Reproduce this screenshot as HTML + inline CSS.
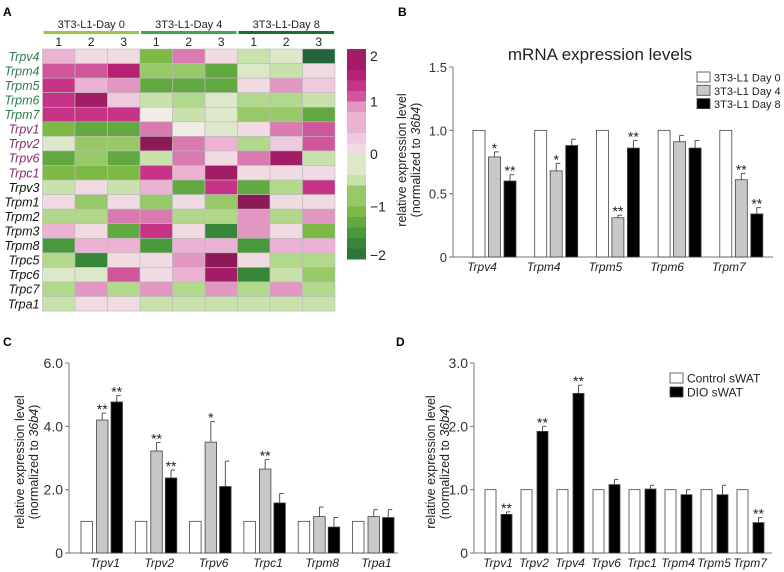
<!DOCTYPE html>
<html><head><meta charset="utf-8"><style>
html,body{margin:0;padding:0;background:#fff;}
svg{display:block;font-family:"Liberation Sans",Arial,sans-serif;}
</style></head><body>
<svg id="fig" width="784" height="572" viewBox="0 0 784 572" xmlns="http://www.w3.org/2000/svg">
<text x="3" y="16" font-size="12" font-weight="bold">A</text>
<text x="398" y="16" font-size="12" font-weight="bold">B</text>
<text x="3" y="346" font-size="12" font-weight="bold">C</text>
<text x="396" y="346" font-size="12" font-weight="bold">D</text>
<g id="heat"></g>
<g id="pb"></g>
<g id="pc"></g>
<g id="pd"></g>
</svg>
<script>
// ---- Heatmap data ----
const hmGenes = ["Trpv4","Trpm4","Trpm5","Trpm6","Trpm7","Trpv1","Trpv2","Trpv6","Trpc1","Trpv3","Trpm1","Trpm2","Trpm3","Trpm8","Trpc5","Trpc6","Trpc7","Trpa1"];
const hmGroups = ["3T3-L1-Day 0","3T3-L1-Day 4","3T3-L1-Day 8"];
const hmReps = ["1","2","3"];
const hmValues = [
[0.6,0.1,0.1,-1.0,0.9,0.1,-0.4,-0.2,-2.0],
[1.2,1.2,1.5,-0.8,-0.9,-1.2,-0.3,-0.4,0.2],
[1.4,0.5,0.8,-1.2,-1.2,-1.2,0.2,0.8,0.4],
[1.4,1.9,0.4,-0.5,-0.6,-0.3,-0.7,-0.7,-0.5],
[1.4,1.4,1.4,-0.1,-0.5,-0.3,-0.9,-0.8,-1.2],
[-1.0,-1.3,-1.3,1.0,-0.1,-0.3,0.2,1.0,1.1],
[-0.3,-0.8,-0.8,2.2,0.9,0.6,-0.6,0.4,1.1],
[-1.2,-0.8,-1.2,-0.5,0.9,0.1,1.0,1.7,-0.5],
[-1.0,-1.0,-1.0,1.4,0.6,1.7,0.2,0.2,0.2],
[-0.5,0.1,-0.5,0.6,-1.2,1.3,-1.2,-0.6,1.3],
[0.1,-0.9,0.1,-0.9,0.1,-0.9,2.2,0.1,0.1],
[-0.7,-0.7,0.9,0.9,-0.7,-0.7,0.8,-0.7,0.8],
[0.6,0.2,-1.3,1.4,0.1,-1.7,0.8,0.1,-1.0],
[-1.5,0.6,0.6,-1.5,0.6,0.6,-1.5,0.6,0.6],
[-0.7,-1.7,0.1,0.1,0.8,2.1,0.1,-0.7,-0.7],
[-0.3,-0.3,1.1,0.1,0.6,1.8,-1.6,-0.5,-0.9],
[-0.7,0.8,-0.7,0.8,-0.7,0.8,-0.7,0.8,-0.7],
[-0.5,0.1,0.1,-0.5,-0.5,-0.5,-0.5,-0.5,-0.5]
];
const cbTicks = [2,1,0,-1,-2];

// ---- Panel B data ----
const bCats = ["Trpv4","Trpm4","Trpm5","Trpm6","Trpm7"];
const bDay0 = [1,1,1,1,1];
const bDay4 = [0.79,0.68,0.31,0.91,0.61];
const bDay8 = [0.60,0.88,0.86,0.86,0.34];
const bErr4 = [0.04,0.06,0.02,0.05,0.05];
const bErr8 = [0.05,0.05,0.06,0.06,0.05];
const bSig4 = ["*","*","**","","**"];
const bSig8 = ["**","","**","","**"];
const bTicks = [0,0.5,1.0,1.5];
const bTickLabels = ["0","0.5","1.0","1.5"];

// ---- Panel C data ----
const cCats = ["Trpv1","Trpv2","Trpv6","Trpc1","Trpm8","Trpa1"];
const cDay0 = [1,1,1,1,1,1];
const cDay4 = [4.2,3.22,3.5,2.65,1.15,1.15];
const cDay8 = [4.77,2.37,2.1,1.58,0.82,1.12];
const cErr4 = [0.22,0.27,0.65,0.3,0.3,0.22];
const cErr8 = [0.2,0.25,0.8,0.3,0.3,0.25];
const cSig4 = ["**","**","*","**","",""];
const cSig8 = ["**","**","","","",""];
const cTicks = [0,2,4,6];
const cTickLabels = ["0","2.0","4.0","6.0"];

// ---- Panel D data ----
const dCats = ["Trpv1","Trpv2","Trpv4","Trpv6","Trpc1","Trpm4","Trpm5","Trpm7"];
const dCtrl = [1,1,1,1,1,1,1,1];
const dDio = [0.61,1.92,2.52,1.08,1.01,0.92,0.92,0.48];
const dErr = [0.04,0.08,0.13,0.08,0.06,0.08,0.15,0.08];
const dSig = ["**","**","**","","","","","**"];
const dTicks = [0,1,2,3];
const dTickLabels = ["0","1.0","2.0","3.0"];

const NS="http://www.w3.org/2000/svg";
function mk(parent,tag,attrs,text){const e=document.createElementNS(NS,tag);for(const k in attrs)e.setAttribute(k,attrs[k]);if(text!==undefined)e.textContent=text;parent.appendChild(e);return e;}

// colour scale
const stops=[[-2,[35,100,58]],[-1.5,[61,143,58]],[-1,[124,186,69]],[-0.5,[191,223,158]],[0,[241,237,230]],[0.5,[239,192,220]],[1,[217,122,176]],[1.5,[194,33,124]],[2,[140,26,87]]];
function color(v){v=Math.max(-2,Math.min(2,Math.round(v/0.2)*0.2));for(let i=0;i<stops.length-1;i++){const a=stops[i],b=stops[i+1];if(v<=b[0]+1e-9){const t=(v-a[0])/(b[0]-a[0]);const c=a[1].map((x,j)=>Math.round(x+(b[1][j]-x)*t));return `rgb(${c.join(',')})`;}}return 'rgb(140,26,87)';}

// ---- Heatmap ----
(function(){
const g=document.getElementById('heat');
const x0=42.5,y0=49,cw=32.5,rh=14.56;
const gcols=["#9dc54a","#3ea84f","#1e6b3a"];
hmGroups.forEach((name,i)=>{
  const t=mk(g,'text',{x:x0+cw*(i*3+1.5),y:28,'font-size':11,'text-anchor':'middle',fill:'#222'},name);
  
  
  const r=mk(g,'rect',{x:x0+cw*i*3+1,y:31,width:cw*3-2,height:3,fill:gcols[i]});
  
  
  hmReps.forEach((rep,j)=>{
    const tt=mk(g,'text',{x:x0+cw*(i*3+j+0.5),y:46,'font-size':12,'text-anchor':'middle',fill:'#222'},rep);
    
    
  });
});
hmGenes.forEach((gene,r)=>{
  const col=r<5?'#2e7d4f':(r<9?'#8b2a6a':'#111');
  const t=mk(g,'text',{x:x0-3,y:y0+rh*r+rh/2+4.5,'font-size':12.5,'font-style':'italic','text-anchor':'end',fill:col},gene);
  
  
  hmValues[r].forEach((v,c)=>{
    const cell=mk(g,'rect',{x:x0+cw*c,y:y0+rh*r,width:cw,height:rh,fill:color(v),stroke:'#bbb','stroke-width':0.6});
    
    
  });
});
// colorbar
const cbx=347,cby=49,cbh=210,n=20;
for(let i=0;i<n;i++){
  const v=2-(i+0.5)*4/n;
  const s=mk(g,'rect',{x:cbx,y:cby+i*cbh/n,width:19,height:cbh/n+0.5,fill:color(v)});
  
  
}
cbTicks.forEach(v=>{
  const y=cby+(2-v)/4*cbh;
  const yy=Math.min(Math.max(y,cby+7),cby+cbh-4);
  const t=mk(g,'text',{x:370,y:yy+5,'font-size':14,fill:'#222'},v<0?'\u2212'+Math.abs(v):String(v));
  
  
});
})();

// ---- generic bar chart ----
function barChart(g,o){
  const ys=v=>o.y0-(v/o.max)*(o.y0-o.ytop);
  mk(g,'line',{x1:o.ax,y1:o.ytop,x2:o.ax,y2:o.y0,stroke:'#777','stroke-width':1});
  mk(g,'line',{x1:o.ax,y1:o.y0,x2:o.axEnd,y2:o.y0,stroke:'#777','stroke-width':1});
  o.ticks.forEach((v,i)=>{
    const y=ys(v);
    mk(g,'line',{x1:o.ax-4,y1:y,x2:o.ax,y2:y,stroke:'#777'});
    const t=mk(g,'text',{x:o.ax-6,y:y+5,'font-size':o.tfs,'text-anchor':'end',fill:'#333'},o.tickLabels[i]);
    
    
  });
  const yt=mk(g,'text',{transform:`translate(${o.ylx},${o.ylc}) rotate(-90)`,'font-size':12.5,'text-anchor':'middle',fill:'#222'});
  
  
  mk(yt,'tspan',{x:0,y:0},'relative expression level');
  const t2=mk(yt,'tspan',{x:0,dy:14},'(normalized to ');
  mk(yt,'tspan',{'font-style':'italic'},'36b4');
  mk(yt,'tspan',{},')');
  o.cats.forEach((cat,i)=>{
    const gx=o.g0+i*o.gs;
    o.series.forEach((s,k)=>{
      const x=gx+o.offs[k];
      const v=s.vals[i];
      const y=ys(v);
      if(s.err){
        const ey=ys(v+s.err[i]);
        mk(g,'line',{x1:x+o.bw/2,y1:y,x2:x+o.bw/2,y2:ey,stroke:'#555','stroke-width':1});
        mk(g,'line',{x1:x+o.bw/2,y1:ey,x2:x+o.bw/2+o.bw*0.35,y2:ey,stroke:'#555','stroke-width':1});
      }
      const r=mk(g,'rect',{x:x,y:y,width:o.bw,height:o.y0-y,fill:s.fill,stroke:'#444','stroke-width':0.8});
      
      
      if(s.sig&&s.sig[i]){
        const ty=ys(v+(s.err?s.err[i]:0))-4;
        const st=mk(g,'text',{x:x+o.bw/2,y:ty+5,'font-size':14,'text-anchor':'middle',fill:'#222'},s.sig[i]);
        
        
      }
    });
    const lt=mk(g,'text',{x:gx+o.labOff,y:o.y0+14,'font-size':12,'font-style':'italic','text-anchor':'middle',fill:'#222'},cat);
    
    
  });
  if(o.legend){
    o.legend.forEach((L,i)=>{
      const ly=o.legY+i*o.legDy;
      const b=mk(g,'rect',{x:o.legX,y:ly,width:13,height:10,fill:L.fill,stroke:'#444','stroke-width':0.8});
      
      
      const t=mk(g,'text',{x:o.legX+17,y:ly+9.5,'font-size':o.legFs,fill:'#222'},L.label);
      
      
    });
  }
}

// Panel B
(function(){
const g=document.getElementById('pb');
const t=mk(g,'text',{x:600,y:60,'font-size':17,'text-anchor':'middle',fill:'#222'},'mRNA expression levels');


barChart(g,{ax:453,axEnd:773,y0:257,ytop:67,max:1.5,ticks:bTicks,tickLabels:bTickLabels,tfs:13,
  ylx:406,ylc:160,cats:bCats,g0:473,gs:61.7,bw:12,offs:[0,15.5,31],labOff:9,
  series:[{key:'day0',vals:bDay0,fill:'#fff'},{key:'day4',vals:bDay4,err:bErr4,sig:bSig4,fill:'#c8c8c8'},{key:'day8',vals:bDay8,err:bErr8,sig:bSig8,fill:'#000'}],
  legend:[{label:'3T3-L1 Day 0',fill:'#fff'},{label:'3T3-L1 Day 4',fill:'#c8c8c8'},{label:'3T3-L1 Day 8',fill:'#000'}],
  legX:697,legY:72,legDy:13.3,legFs:11});
})();

// Panel C
(function(){
const g=document.getElementById('pc');
barChart(g,{ax:69,axEnd:398,y0:553,ytop:363,max:6,ticks:cTicks,tickLabels:cTickLabels,tfs:14,
  ylx:24,ylc:462,cats:cCats,g0:81,gs:54.3,bw:11.5,offs:[0,15.5,30],labOff:24,
  series:[{key:'day0',vals:cDay0,fill:'#fff'},{key:'day4',vals:cDay4,err:cErr4,sig:cSig4,fill:'#c8c8c8'},{key:'day8',vals:cDay8,err:cErr8,sig:cSig8,fill:'#000'}]});
})();

// Panel D
(function(){
const g=document.getElementById('pd');
barChart(g,{ax:474,axEnd:772,y0:553,ytop:363,max:3,ticks:dTicks,tickLabels:dTickLabels,tfs:14,
  ylx:435,ylc:462,cats:dCats,g0:485,gs:36,bw:11,offs:[0,16],labOff:13,
  series:[{key:'control',vals:dCtrl,fill:'#fff'},{key:'dio',vals:dDio,err:dErr,sig:dSig,fill:'#000'}],
  legend:[{label:'Control sWAT',fill:'#fff'},{label:'DIO sWAT',fill:'#000'}],
  legX:670,legY:373,legDy:14,legFs:12});
})();
</script>
</body></html>
